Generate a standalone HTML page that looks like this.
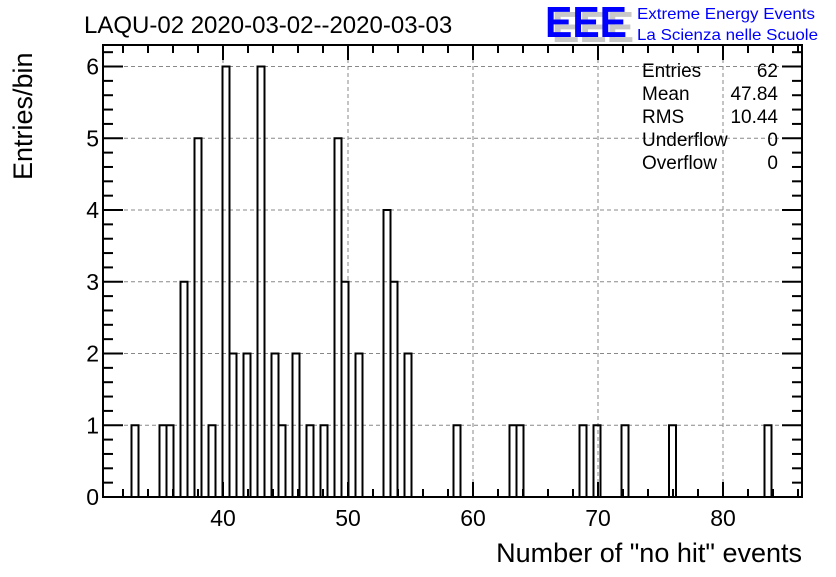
<!DOCTYPE html>
<html><head><meta charset="utf-8"><style>
body{margin:0;background:#fff;}
svg text{font-family:"Liberation Sans",sans-serif;}
</style></head><body>
<svg width="836" height="572" viewBox="0 0 836 572" xmlns="http://www.w3.org/2000/svg">
<rect width="836" height="572" fill="#fff"/>
<text x="84" y="33" font-size="24">LAQU-02 2020-03-02--2020-03-03</text>
<g>
<text x="552" y="42" font-size="44" font-weight="bold" fill="#c8c8c8" textLength="82" lengthAdjust="spacingAndGlyphs">EEE</text>
<text x="545" y="37" font-size="44" font-weight="bold" fill="#0000ff" textLength="82" lengthAdjust="spacingAndGlyphs">EEE</text>
<text x="637" y="19" font-size="16" fill="#0000ff" textLength="178" lengthAdjust="spacingAndGlyphs">Extreme Energy Events</text>
<text x="637" y="40" font-size="16" fill="#0000ff" textLength="181" lengthAdjust="spacingAndGlyphs">La Scienza nelle Scuole</text>
</g>
<g id="grid"></g>
<g id="bars"></g>
<g id="axes"></g>
<g font-size="19">
<text x="642" y="77">Entries</text><text x="778" y="77" text-anchor="end">62</text>
<text x="642" y="100">Mean</text><text x="778" y="100" text-anchor="end">47.84</text>
<text x="642" y="123">RMS</text><text x="778" y="123" text-anchor="end">10.44</text>
<text x="642" y="146">Underflow</text><text x="778" y="146" text-anchor="end">0</text>
<text x="642" y="169">Overflow</text><text x="778" y="169" text-anchor="end">0</text>
</g>
<text x="802" y="562" font-size="27" text-anchor="end">Number of "no hit" events</text>
<text transform="translate(32,180) rotate(-90)" font-size="27">Entries/bin</text>
</svg>
<script>
const binCenters=[32.96,35.20,35.76,36.88,38.00,39.12,40.24,40.80,41.92,43.04,44.16,44.72,45.84,46.96,48.08,49.20,49.76,50.88,53.12,53.68,54.80,58.72,63.20,63.76,68.80,69.92,72.16,75.96,83.60];
const counts=[1,1,1,3,5,1,6,2,2,6,2,1,2,1,1,5,3,2,4,3,2,1,1,1,1,1,1,1,1];
const xTickLabels=["40","50","60","70","80"];
const yTickLabels=["0","1","2","3","4","5","6"];
const binWidth=0.56, xmin=30.5, xmax=86.3, ymax=6.3;
const L=103,R=802,T=45,B=497;
const xs=v=>223+(v-40)*12.5;
const ys=v=>B-v*(B-T)/ymax;
const NS="http://www.w3.org/2000/svg";
function mk(tag,attrs,parent){const e=document.createElementNS(NS,tag);for(const k in attrs)e.setAttribute(k,attrs[k]);parent.appendChild(e);return e;}
const grid=document.getElementById('grid'),bars=document.getElementById('bars'),axes=document.getElementById('axes');
xTickLabels.forEach(t=>{const x=xs(+t);
 const g=mk('line',{x1:x,x2:x,y1:T,y2:B,stroke:'#888','stroke-dasharray':'4,3','stroke-width':1},grid);
 });
yTickLabels.forEach(t=>{const y=ys(+t);
 const g=mk('line',{x1:L,x2:R,y1:y,y2:y,stroke:'#888','stroke-dasharray':'4,3','stroke-width':1},grid);
 });
let d='';
binCenters.forEach((c,i)=>{const x0=xs(c-binWidth/2),x1=xs(c+binWidth/2),y=ys(counts[i]);
 d+=`M${x0},${B}V${y}H${x1}V${B}`;});
const p=mk('path',{d:d,fill:'none',stroke:'#000','stroke-width':2},bars);

const fr=mk('rect',{x:L,y:T,width:R-L,height:B-T,fill:'none',stroke:'#000','stroke-width':2},axes);

for(let v=32;v<=86;v+=2){const x=xs(v);const major=v%10===0;const len=major?15:8;
 const t1=mk('line',{x1:x,x2:x,y1:B,y2:B-len,stroke:'#000','stroke-width':2},axes);
 
 const t2=mk('line',{x1:x,x2:x,y1:T,y2:T+len,stroke:'#000','stroke-width':2},axes);
 }
xTickLabels.forEach(t=>{const e=mk('text',{x:xs(+t),y:526,'font-size':23,'text-anchor':'middle'},axes);e.textContent=t;
 });
for(let k=0;k<=31;k++){const v=k*0.2;if(v>ymax)break;const y=ys(v);const major=k%5===0;const len=major?20:10;
 const t1=mk('line',{x1:L,x2:L+len,y1:y,y2:y,stroke:'#000','stroke-width':2},axes);
 
 const t2=mk('line',{x1:R,x2:R-len,y1:y,y2:y,stroke:'#000','stroke-width':2},axes);
 }
yTickLabels.forEach(t=>{const e=mk('text',{x:99,y:ys(+t)+8,'font-size':23,'text-anchor':'end'},axes);e.textContent=t;
 });
</script>
</body></html>
